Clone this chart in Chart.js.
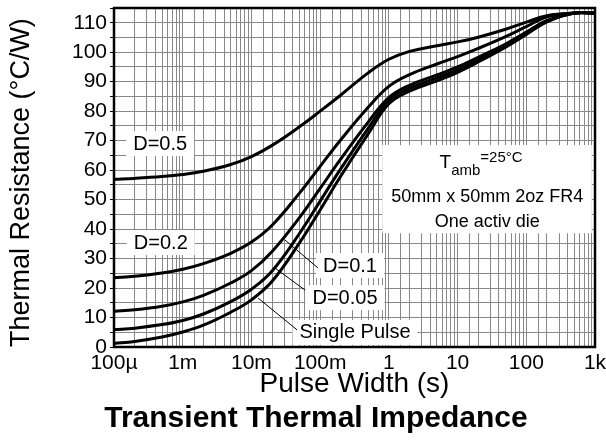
<!DOCTYPE html>
<html><head><meta charset="utf-8">
<script src="https://cdn.jsdelivr.net/npm/chart.js@4.4.1/dist/chart.umd.min.js"></script>
<style>html,body{margin:0;padding:0;background:#fff}</style>
</head><body>
<canvas id="c" width="606" height="448"></canvas>
<script>
// ---- data ----
const pulseWidth = [1e-4, 2e-4, 5e-4, 1e-3, 2e-3, 5e-3, 1e-2, 2e-2, 5e-2, 0.1, 0.2, 0.5, 1, 2, 5, 10, 20, 50, 100, 200, 500, 1000];
const zthD05    = [56.9, 57.2, 57.8, 58.5, 59.6, 61.9, 64.6, 68.4, 74.7, 80.0, 85.5, 93.0, 97.6, 100.3, 102.2, 103.5, 105.1, 107.8, 110.2, 112.4, 113.3, 113.3];
const zthD02    = [23.5, 24.0, 25.1, 26.4, 28.3, 31.8, 35.6, 41.3, 52.2, 61.3, 70.3, 81.3, 88.4, 92.4, 96.0, 98.5, 101.3, 105.3, 108.7, 112.0, 113.3, 113.3];
const zthD01    = [12.1, 12.6, 13.8, 15.3, 17.5, 21.7, 25.9, 32.4, 43.9, 53.8, 63.8, 76.3, 84.6, 88.8, 92.3, 95.0, 98.3, 102.8, 106.8, 110.8, 113.3, 113.3];
const zthD005   = [5.9, 6.4, 7.6, 9.0, 11.2, 15.4, 19.6, 25.8, 38.5, 49.5, 60.5, 74.2, 83.7, 87.8, 91.3, 94.0, 97.4, 102.2, 106.4, 110.6, 113.3, 113.3];
const zthSingle = [1.2, 1.9, 3.4, 5.1, 7.4, 11.8, 16.0, 22.3, 35.3, 46.5, 58.0, 72.3, 82.5, 86.8, 90.3, 93.2, 96.7, 101.7, 106.0, 110.3, 113.3, 113.3];
const seriesNames = ['D=0.5', 'D=0.2', 'D=0.1', 'D=0.05', 'Single Pulse'];
const seriesValues = [zthD05, zthD02, zthD01, zthD005, zthSingle];

const xTickValues = [1e-4, 1e-3, 1e-2, 1e-1, 1, 10, 100, 1000];
const xTickLabels = ['100µ', '1m', '10m', '100m', '1', '10', '100', '1k'];
const yMin = 0, yMax = 115, yGridStep = 5, yLabelStep = 10;

const xTitle = 'Pulse Width (s)';
const yTitle = 'Thermal Resistance (°C/W)';
const chartTitle = 'Transient Thermal Impedance';
const noteLine1 = ['T', 'amb', '=25°C'];
const noteLine2 = '50mm x 50mm 2oz FR4';
const noteLine3 = 'One activ die';

// label anchors in data coordinates (pulse width, °C/W)
const curveLabels = [
  { text: 'D=0.5', x: 4.7e-4, y: 69.2 },
  { text: 'D=0.2', x: 4.8e-4, y: 35.6 },
  { text: 'D=0.1', x: 0.272, y: 27.8, from: [0.0308, 36.3], to: [0.093, 26.8] },
  { text: 'D=0.05', x: 0.23, y: 16.9, from: [0.022, 26.8], to: [0.0603, 19.3] },
  { text: 'Single Pulse', x: 0.322, y: 5.1, from: [0.0125, 16.6], to: [0.0462, 5.8] }
];
const noteBox = { x1: 0.8, x2: 900, y1: 68.5, y2: 38.6, cx1: 22, cx: 27, rows: [62.4, 50.8, 42.4] };

const FONT = "'Liberation Sans', Arial, sans-serif";
Chart.defaults.font.family = FONT;
Chart.defaults.color = '#000';

const datasets = seriesNames.map((name, i) => ({
  label: name,
  data: pulseWidth.map((t, k) => ({ x: t, y: seriesValues[i][k] })),
  borderColor: '#000',
  borderWidth: 3,
  pointRadius: 0,
  fill: false,
  tension: 0.4
}));

const annotations = {
  id: 'annotations',
  beforeDatasetsDraw(chart) {
    const { ctx, scales: { x, y } } = chart;
    ctx.save();
    ctx.textAlign = 'center';
    ctx.textBaseline = 'middle';
    ctx.font = '20px ' + FONT;
    curveLabels.forEach(l => {
      const px = x.getPixelForValue(l.x), py = y.getPixelForValue(l.y);
      const w = ctx.measureText(l.text).width;
      ctx.fillStyle = '#fff';
      ctx.fillRect(px - w / 2 - 7, py - 12, w + 14, 25);
      ctx.fillStyle = '#000';
      ctx.fillText(l.text, px, py + 1);
      if (l.from) {
        ctx.strokeStyle = '#000';
        ctx.lineWidth = 1;
        ctx.beginPath();
        ctx.moveTo(x.getPixelForValue(l.from[0]), y.getPixelForValue(l.from[1]));
        ctx.lineTo(x.getPixelForValue(l.to[0]), y.getPixelForValue(l.to[1]));
        ctx.stroke();
      }
    });
    // note box
    const bx1 = x.getPixelForValue(noteBox.x1), bx2 = x.getPixelForValue(noteBox.x2);
    const by1 = y.getPixelForValue(noteBox.y1), by2 = y.getPixelForValue(noteBox.y2);
    ctx.fillStyle = '#fff';
    ctx.fillRect(bx1, by1, bx2 - bx1, by2 - by1);
    ctx.fillStyle = '#000';
    const cx1 = x.getPixelForValue(noteBox.cx1);
    const cx = x.getPixelForValue(noteBox.cx);
    const r1 = y.getPixelForValue(noteBox.rows[0]);
    ctx.textAlign = 'left';
    ctx.font = '19px ' + FONT;
    const wT = ctx.measureText(noteLine1[0]).width;
    ctx.font = '15px ' + FONT;
    const wS = ctx.measureText(noteLine1[1]).width;
    const wP = ctx.measureText(noteLine1[2]).width;
    let sx = cx1 - (wT + wS + wP) / 2;
    ctx.font = '19px ' + FONT;
    ctx.fillText(noteLine1[0], sx, r1);
    ctx.font = '15px ' + FONT;
    ctx.fillText(noteLine1[1], sx + wT, r1 + 8);
    ctx.fillText(noteLine1[2], sx + wT + wS, r1 - 5);
    ctx.textAlign = 'center';
    ctx.font = '18px ' + FONT;
    ctx.fillText(noteLine2, cx, y.getPixelForValue(noteBox.rows[1]));
    ctx.fillText(noteLine3, cx, y.getPixelForValue(noteBox.rows[2]));
    ctx.restore();
  },
  afterDraw(chart) {
    const { ctx, chartArea: a } = chart;
    ctx.save();
    ctx.strokeStyle = '#000';
    ctx.lineWidth = 2.5;
    ctx.strokeRect(a.left, a.top, a.right - a.left, a.bottom - a.top);
    ctx.restore();
  }
};

new Chart(document.getElementById('c'), {
  type: 'line',
  data: { datasets },
  plugins: [annotations],
  options: {
    responsive: false,
    animation: false,
    layout: { padding: { left: 37, right: 11, top: 8, bottom: 0 } },
    plugins: {
      legend: { display: false },
      tooltip: { enabled: false },
      title: {
        display: true, text: chartTitle, position: 'bottom',
        font: { size: 30, weight: 'bold' }, color: '#000',
        padding: { top: 0, bottom: 11 }
      }
    },
    scales: {
      x: {
        type: 'logarithmic', min: xTickValues[0], max: xTickValues[xTickValues.length - 1],
        grid: { color: '#888', lineWidth: 1, drawTicks: false },
        border: { color: '#000', width: 2 },
        ticks: {
          autoSkip: false, maxRotation: 0, padding: 4,
          font: { size: 21 }, color: '#000',
          callback(v) {
            const i = xTickValues.findIndex(t => Math.abs(Math.log10(t) - Math.log10(v)) < 1e-6);
            return i >= 0 ? xTickLabels[i] : '';
          }
        },
        title: { display: true, text: xTitle, font: { size: 28 }, color: '#000', padding: { top: 0, bottom: 0 } },
        afterFit(s) { s.height = 54; s.paddingLeft = 0; s.paddingRight = 0; }
      },
      y: {
        min: yMin, max: yMax,
        grid: { color: '#888', lineWidth: 1, tickLength: 4, tickColor: '#000' },
        border: { color: '#000', width: 2 },
        ticks: {
          stepSize: yGridStep, autoSkip: false, padding: 3,
          font: { size: 21 }, color: '#000',
          callback(v) { return v % yLabelStep === 0 ? String(v) : ''; }
        },
        title: { display: true, text: yTitle, align: 'start', font: { size: 27 }, color: '#000', padding: { top: -31.2, bottom: 0 } },
        afterFit(s) { s.width = 77; s.paddingTop = 0; s.paddingBottom = 0; }
      }
    }
  }
});
</script>
</body></html>
